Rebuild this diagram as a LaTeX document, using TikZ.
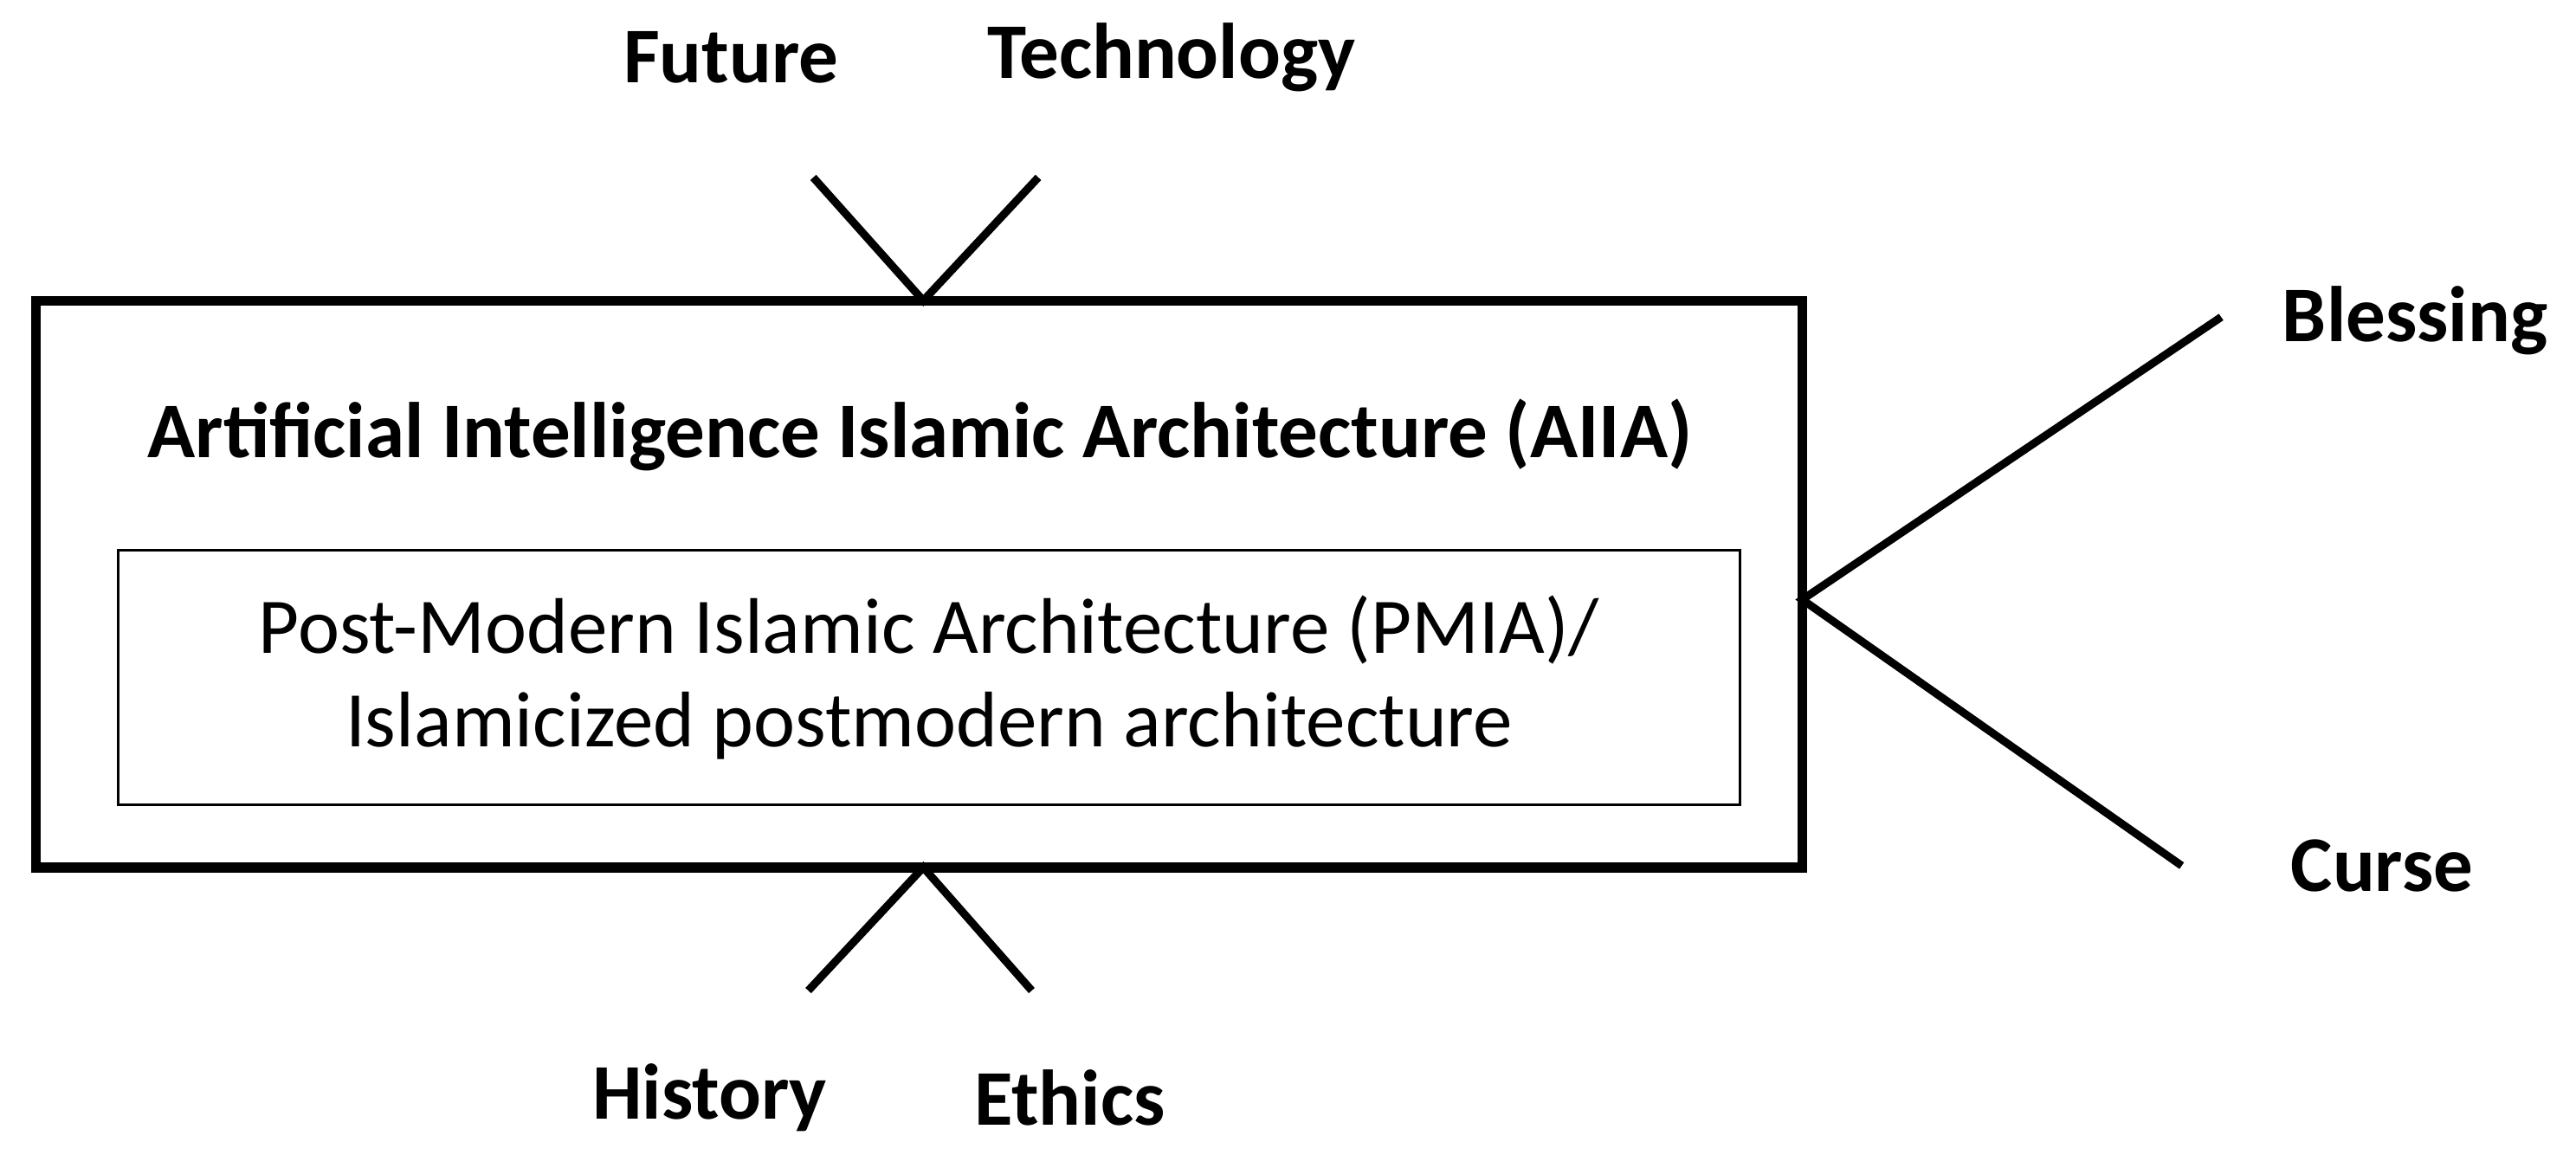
\documentclass[tikz,border=0pt]{standalone}
\usepackage{fontspec}
\setmainfont{Carlito}
\begin{document}
\begin{tikzpicture}[x=0.5pt,y=-0.5pt,
  lbl/.style={font=\fontsize{24}{28}\selectfont\bfseries},
  con/.style={line width=2.4pt}]
\useasboundingbox (0,0) rectangle (1568,703);
\node[draw,line width=3pt,minimum width=537.5pt,minimum height=172.5pt] (outer) at (559.5,355.5) {};
\node[draw,line width=0.8pt,minimum width=493.5pt,minimum height=77.5pt,align=center,font=\fontsize{24}{28.5}\selectfont] (inner) at (565.5,412.5) {Post-Modern Islamic Architecture (PMIA)/\\Islamicized postmodern architecture};
\node[lbl] (title) at (560,265) {Artificial Intelligence Islamic Architecture (AIIA)};
\coordinate (top) at (562,183);
\coordinate (bot) at (562,528);
\coordinate (rt) at (1097,365);
\coordinate (t1) at (495,108);
\coordinate (t2) at (632,108);
\coordinate (b1) at (492,603);
\coordinate (b2) at (628,603);
\coordinate (r1) at (1352,193);
\coordinate (r2) at (1328,527);
\draw[con] (t1) -- (top) -- (t2);
\draw[con] (b1) -- (bot) -- (b2);
\draw[con] (r1) -- (rt) -- (r2);
\node[lbl] (future) at (445,35) {Future};
\node[lbl] (tech) at (713,35) {Technology};
\node[lbl] (bless) at (1470,195) {Blessing};
\node[lbl] (curse) at (1450,527) {Curse};
\node[lbl] (hist) at (432,668) {History};
\node[lbl] (eth) at (651,668) {Ethics};
\end{tikzpicture}
\end{document}
